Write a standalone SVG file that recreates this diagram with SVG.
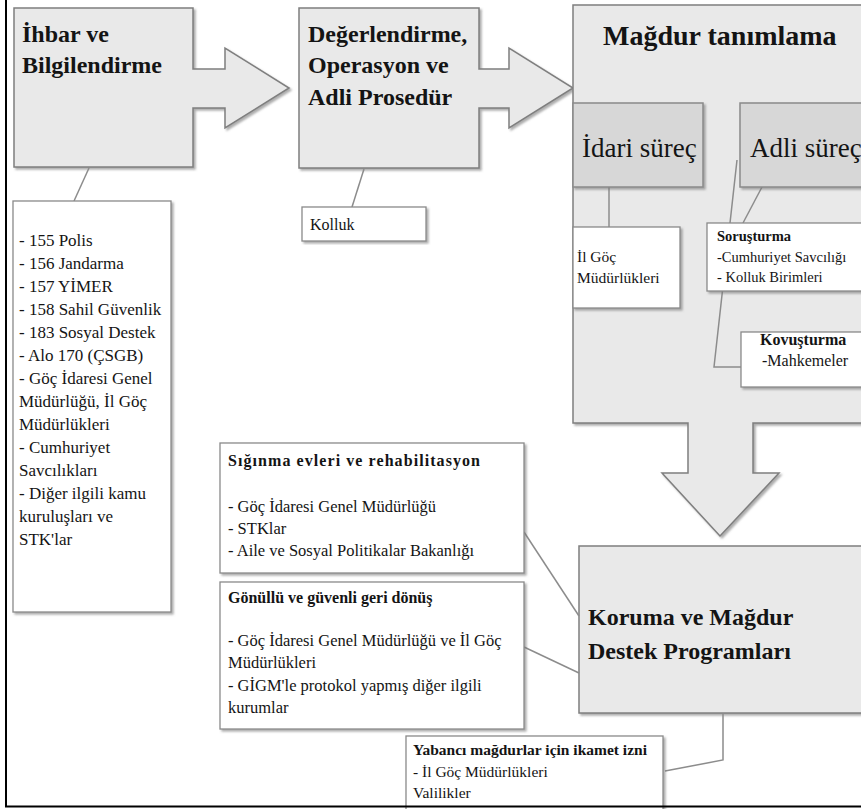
<svg xmlns="http://www.w3.org/2000/svg" width="861" height="809" viewBox="0 0 861 809">
<defs>
<filter id="sh" x="-5%" y="-5%" width="115%" height="115%">
<feDropShadow dx="2" dy="2" stdDeviation="1" flood-color="#777" flood-opacity="0.6"/>
</filter>
</defs>
<style>
.big{fill:#e9e9e9;stroke:#7f7f7f;stroke-width:1.5;filter:url(#sh)}
.mid{fill:#d7d7d7;stroke:#8a8a8a;stroke-width:1.5;filter:url(#sh)}
.box{fill:#ffffff;stroke:#8a8a8a;stroke-width:1.3;filter:url(#sh)}
.con{fill:none;stroke:#8c8c8c;stroke-width:1.5}
.t{font-family:"Liberation Serif","DejaVu Serif",serif;fill:#141414}
.tb{font-family:"Liberation Serif","DejaVu Serif",serif;font-weight:bold;fill:#141414}
.h24{font-size:24px}
.h28{font-size:28px}
.s27{font-size:27px}
.s17{font-size:17px}
.s165{font-size:16.5px}
.s16{font-size:16px}
.s15{font-size:15.5px}
.s14{font-size:14.5px}
</style>
<rect x="0" y="0" width="861" height="809" fill="#ffffff"/>

<g id="ihbar">
<path class="big" d="M14,8 H193 V69 H225 V48 L289,88 L225,128 V108 H193 V167 H14 Z"/>
<text class="tb h24" x="22" y="42">İhbar ve</text>
<text class="tb h24" x="22" y="73">Bilgilendirme</text>
</g>

<g id="degerlendirme">
<path class="big" d="M299,8 H479 V69 H509 V48 L573,88 L509,128 V108 H479 V168 H299 Z"/>
<text class="tb h24" x="308" y="42">Değerlendirme,</text>
<text class="tb h24" x="308" y="73">Operasyon ve</text>
<text class="tb h24" x="308" y="105">Adli Prosedür</text>
</g>

<g id="magdur">
<path class="big" d="M573,5 H875 V423 H753 V473 H779 L720,536 L662,473 H688 V423 H573 Z"/>
<text class="tb h28" x="603" y="45">Mağdur tanımlama</text>
</g>

<g id="koruma">
<rect class="big" x="579" y="546" width="300" height="167"/>
<text class="tb h24" x="588" y="625">Koruma ve Mağdur</text>
<text class="tb h24" x="588" y="659">Destek Programları</text>
</g>

<g id="connectors">
<line class="con" x1="89" y1="168" x2="74" y2="201"/>
<line class="con" x1="364" y1="169" x2="352" y2="207"/>
<line class="con" x1="609" y1="187" x2="609" y2="227"/>
<line class="con" x1="762" y1="187" x2="743" y2="223"/>
<polyline class="con" points="737,160 714,367 742,367"/>
<line class="con" x1="524" y1="532" x2="579" y2="616"/>
<line class="con" x1="524" y1="647" x2="579" y2="673"/>
<polyline class="con" points="723,714 723,760 665,771"/>
</g>

<g id="idari">
<rect class="mid" x="573" y="103" width="130" height="84"/>
<text class="t s27" x="582" y="157">İdari süreç</text>
</g>

<g id="adli">
<rect class="mid" x="740" y="103" width="140" height="84"/>
<text class="t s27" x="750" y="157">Adli süreç</text>
</g>

<g id="ihbar-list">
<rect class="box" x="13" y="201" width="158" height="411"/>
<text class="t s17" x="19">
<tspan x="19" y="246">- 155 Polis</tspan>
<tspan x="19" y="269">- 156 Jandarma</tspan>
<tspan x="19" y="292">- 157 YİMER</tspan>
<tspan x="19" y="315">- 158 Sahil Güvenlik</tspan>
<tspan x="19" y="338">- 183 Sosyal Destek</tspan>
<tspan x="19" y="361">- Alo 170 (ÇSGB)</tspan>
<tspan x="19" y="384">- Göç İdaresi Genel</tspan>
<tspan x="19" y="407">Müdürlüğü, İl Göç</tspan>
<tspan x="19" y="430">Müdürlükleri</tspan>
<tspan x="19" y="453">- Cumhuriyet</tspan>
<tspan x="19" y="476">Savcılıkları</tspan>
<tspan x="19" y="499">- Diğer ilgili kamu</tspan>
<tspan x="19" y="522">kuruluşları ve</tspan>
<tspan x="19" y="545">STK'lar</tspan>
</text>
</g>

<g id="kolluk">
<rect class="box" x="302" y="207" width="124" height="34"/>
<text class="t s16" x="310" y="230">Kolluk</text>
</g>

<g id="ilgoc">
<rect class="box" x="573" y="227" width="107" height="81"/>
<text class="t s15" x="577" y="262">İl Göç</text>
<text class="t s15" x="577" y="283">Müdürlükleri</text>
</g>

<g id="sorusturma">
<rect class="box" x="707" y="223" width="170" height="68"/>
<text class="tb s14" x="717" y="241">Soruşturma</text>
<text class="t s14" x="717" y="262">-Cumhuriyet Savcılığı</text>
<text class="t s14" x="717" y="282">- Kolluk Birimleri</text>
</g>

<g id="kovusturma">
<rect class="box" x="741" y="332" width="135" height="55"/>
<text class="tb s16" x="760" y="345">Kovuşturma</text>
<text class="t s16" x="762" y="366">-Mahkemeler</text>
</g>

<g id="siginma">
<rect class="box" x="220" y="443" width="304" height="130"/>
<text class="tb s16" x="228" y="466" textLength="252" lengthAdjust="spacing">Sığınma evleri ve rehabilitasyon</text>
<text class="t s165" x="228" y="512">- Göç İdaresi Genel Müdürlüğü</text>
<text class="t s165" x="228" y="534">- STKlar</text>
<text class="t s165" x="228" y="556">- Aile ve Sosyal Politikalar Bakanlığı</text>
</g>

<g id="gonullu">
<rect class="box" x="220" y="582" width="304" height="147"/>
<text class="tb s16" x="228" y="603">Gönüllü ve güvenli geri dönüş</text>
<text class="t s165" x="228" y="646">- Göç İdaresi Genel Müdürlüğü ve İl Göç</text>
<text class="t s165" x="228" y="668">Müdürlükleri</text>
<text class="t s165" x="228" y="691">- GİGM'le protokol yapmış diğer ilgili</text>
<text class="t s165" x="228" y="713">kurumlar</text>
</g>

<g id="yabanci">
<rect class="box" x="406" y="736" width="257" height="80"/>
<text class="tb s15" x="413" y="755">Yabancı mağdurlar için ikamet izni</text>
<text class="t s15" x="413" y="777">- İl Göç Müdürlükleri</text>
<text class="t s15" x="413" y="798">Valilikler</text>
</g>

<g id="frame">
<line x1="6" y1="0" x2="6" y2="807" stroke="#000" stroke-width="2"/>
<line x1="5" y1="806.5" x2="861" y2="806.5" stroke="#000" stroke-width="2"/>
</g>
</svg>
